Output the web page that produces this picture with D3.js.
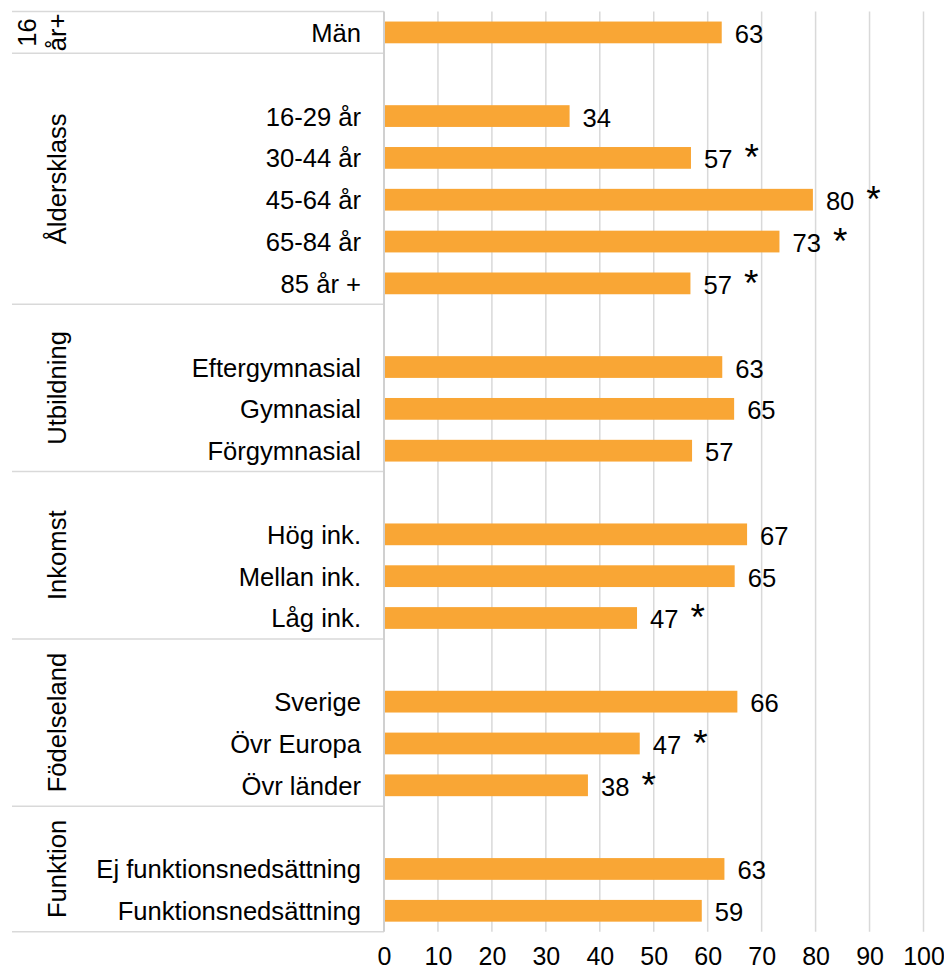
<!DOCTYPE html>
<html>
<head>
    <meta charset="utf-8">
    <script src="https://d3js.org/d3.v7.min.js"></script>
    <style>
        body { margin: 0; background: #fff; }
        text { font-family: Arial, "Liberation Sans", sans-serif; fill: #000; }
    </style>
</head>
<body>
    <script>
        // Data: groups, categories and values (percent)
        var groups = ["16 år+", "Åldersklass", "Utbildning", "Inkomst", "Födelseland", "Funktion"];
        var categories = ["Män", "16-29 år", "30-44 år", "45-64 år", "65-84 år", "85 år +",
            "Eftergymnasial", "Gymnasial", "Förgymnasial",
            "Hög ink.", "Mellan ink.", "Låg ink.",
            "Sverige", "Övr Europa", "Övr länder",
            "Ej funktionsnedsättning", "Funktionsnedsättning"];
        var groupIndex = [0, 1, 1, 1, 1, 1, 2, 2, 2, 3, 3, 3, 4, 4, 4, 5, 5];
        var values = [62.6, 34.4, 56.9, 79.5, 73.3, 56.8, 62.7, 64.9, 57.1, 67.3, 65.0, 46.9, 65.5, 47.4, 37.8, 63.1, 58.9];
        var significant = [0, 0, 1, 1, 1, 1, 0, 0, 0, 0, 0, 1, 0, 1, 1, 0, 0];
        var xTicks = [0, 10, 20, 30, 40, 50, 60, 70, 80, 90, 100];

        var width = 944, height = 970;
        var plotTop = 11.5, plotBottom = 931.7, plotLeft = 384, plotRight = 923.5;
        var gridColor = "#d9d9d9";
        var barColor = "#f9a635";
        var fontSize = "25.6px";

        // build the rows: each group after the first starts with an empty row
        var rows = [];
        var data = categories.map(function (c, i) {
            return { label: c, value: values[i], group: groupIndex[i], sig: significant[i] };
        });
        data.forEach(function (d, i) {
            if (i > 0 && d.group !== data[i - 1].group) rows.push("gap" + d.group);
            rows.push(d.label);
        });

        var svg = d3.select("body").append("svg")
            .attr("width", width)
            .attr("height", height);

        var x = d3.scaleLinear().domain([0, 100]).range([plotLeft, plotRight]);
        var y = d3.scaleBand().domain(rows).range([plotTop, plotBottom])
            .paddingInner(0.48).paddingOuter(0.24);
        var step = y.step();

        // vertical gridlines
        svg.append("g").selectAll("line")
            .data(xTicks.slice(1))
            .enter().append("line")
            .attr("x1", function (d) { return x(d); })
            .attr("x2", function (d) { return x(d); })
            .attr("y1", plotTop).attr("y2", plotBottom)
            .style("stroke", gridColor).style("stroke-width", 1.5);

        // x axis tick labels
        var xAxis = d3.axisBottom(x).tickValues(xTicks).tickSize(0).tickPadding(0);
        var axisG = svg.append("g").attr("transform", "translate(0," + plotBottom + ")").call(xAxis);
        axisG.select(".domain").remove();
        axisG.selectAll("text")
            .attr("y", 33.5).attr("dy", 0)
            .style("font-size", "25px")
            .style("font-family", "Arial, 'Liberation Sans', sans-serif");

        // group boundaries (horizontal separators on the category side)
        var bounds = [plotTop];
        groups.forEach(function (g, gi) {
            var items = data.filter(function (d) { return d.group === gi; });
            var last = items[items.length - 1].label;
            bounds.push(y(last) - (step - y.bandwidth()) / 2 + step);
        });
        svg.append("g").selectAll("line")
            .data(bounds)
            .enter().append("line")
            .attr("x1", 12).attr("x2", plotLeft)
            .attr("y1", function (d) { return d; })
            .attr("y2", function (d) { return d; })
            .style("stroke", gridColor).style("stroke-width", 1.5);

        // bars
        svg.append("g").selectAll("rect")
            .data(data)
            .enter().append("rect")
            .attr("x", x(0) + 1)
            .attr("y", function (d) { return y(d.label); })
            .attr("width", function (d) { return x(d.value) - x(0) - 1; })
            .attr("height", y.bandwidth())
            .style("fill", barColor);

        // category axis line
        svg.append("line")
            .attr("x1", plotLeft).attr("x2", plotLeft)
            .attr("y1", plotTop).attr("y2", plotBottom)
            .style("stroke", "#d0d0d0").style("stroke-width", 2);

        // category labels
        svg.append("g").selectAll("text")
            .data(data)
            .enter().append("text")
            .attr("x", plotLeft - 23)
            .attr("y", function (d) { return y(d.label) + y.bandwidth() / 2 + 9.5; })
            .attr("text-anchor", "end")
            .style("font-size", fontSize)
            .text(function (d) { return d.label; });

        // value labels and asterisks
        var valueLabels = svg.append("g").selectAll("text")
            .data(data)
            .enter().append("text")
            .attr("x", function (d) { return x(d.value) + 13; })
            .attr("y", function (d) { return y(d.label) + y.bandwidth() / 2 + 10.5; })
            .style("font-size", fontSize)
            .text(function (d) { return d3.format(".0f")(d.value); });

        valueLabels.each(function (d) {
            if (!d.sig) return;
            var end = x(d.value) + 13 + this.getComputedTextLength();
            svg.append("text")
                .attr("x", end + 12)
                .attr("y", y(d.label) + y.bandwidth() / 2 + 12.5)
                .style("font-size", "37px")
                .text("*");
        });

        // group labels (rotated)
        groups.forEach(function (g, gi) {
            var cy = (bounds[gi] + bounds[gi + 1]) / 2;
            if (gi === 0) {
                var parts = g.split(" ");
                parts.forEach(function (p, pi) {
                    svg.append("text")
                        .attr("transform", "translate(" + (36 + pi * 30) + "," + cy + ") rotate(-90)")
                        .attr("text-anchor", "middle")
                        .style("font-size", fontSize)
                        .text(p);
                });
            } else {
                svg.append("text")
                    .attr("transform", "translate(66," + cy + ") rotate(-90)")
                    .attr("text-anchor", "middle")
                    .style("font-size", fontSize)
                    .text(g);
            }
        });
    </script>
</body>
</html>
